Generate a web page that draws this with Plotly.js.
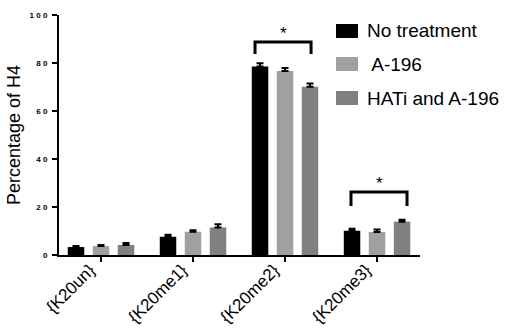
<!DOCTYPE html>
<html>
<head>
<meta charset="utf-8">
<script src="https://cdn.plot.ly/plotly-3.0.1.min.js"></script>
<style>html,body{margin:0;padding:0;background:#fff;}#chart{width:509px;height:329px;}</style>
</head>
<body>
<div id="chart"></div>
<script>
// ---- data ----
const categories = ["{K20un}", "{K20me1}", "{K20me2}", "{K20me3}"];
const seriesNames = ["No treatment", " A-196", "HATi and A-196"];
const seriesColors = ["#000000", "#a0a0a0", "#808080"];
const noTreatment = [3.3, 7.6, 78.5, 10.1];
const a196 = [3.7, 9.7, 76.7, 9.6];
const hatiA196 = [4.2, 11.5, 70.1, 13.9];
const noTreatmentErr = [0.4, 0.8, 1.4, 0.8];
const a196Err = [0.5, 0.6, 1.2, 1.0];
const hatiA196Err = [0.8, 1.3, 1.4, 0.8];
const yTickVals = [0, 20, 40, 60, 80, 100];
const yTickText = ["0", "2 0", "4 0", "6 0", "8 0", "1 0 0"];
// significance brackets
const bracketLeft = [1.674, 2.717];
const bracketRight = [2.283, 3.326];
const bracketTop = [88.8, 26.2];
const bracketDrop = [83.7, 20.4];
const starY = [92.5, 29.6];

const values = [noTreatment, a196, hatiA196];
const errs = [noTreatmentErr, a196Err, hatiA196Err];
const FONT = "Liberation Sans, Arial";

const traces = values.map((v, i) => ({
  type: "bar",
  name: seriesNames[i],
  x: categories,
  y: v,
  marker: {color: seriesColors[i], line: {width: 0}},
  error_y: {type: "data", symmetric: false, array: errs[i], arrayminus: errs[i].map(() => 0),
            color: "#000", thickness: 2, width: 3.5},
  showlegend: false
}));

const shapes = [];
const annotations = [];
for (let k = 0; k < bracketLeft.length; k++) {
  const L = bracketLeft[k], R = bracketRight[k], T = bracketTop[k], D = bracketDrop[k];
  shapes.push({type: "path", xref: "x", yref: "y",
    path: `M ${L} ${D} L ${L} ${T} L ${R} ${T} L ${R} ${D}`,
    line: {color: "#000", width: 3}});
  annotations.push({xref: "x", yref: "y", x: (L + R) / 2, y: starY[k], text: "*",
    showarrow: false, font: {family: FONT, size: 17, color: "#000"}});
}
// rotated category labels
categories.forEach((c, i) => {
  annotations.push({xref: "x", yref: "paper", x: i, y: 0, yshift: -2, xshift: 1,
    xanchor: "right", yanchor: "top", textangle: -45, text: c, showarrow: false,
    font: {family: FONT, size: 17, color: "#000"}});
});
// legend drawn in paper space
const legendY = [31, 64, 98];
seriesNames.forEach((n, i) => {
  shapes.push({type: "rect", xref: "paper", yref: "paper",
    x0: (336 - 59) / 361, x1: (358 - 59) / 361,
    y0: (255 - legendY[i] - 7) / 240, y1: (255 - legendY[i] + 7) / 240,
    fillcolor: seriesColors[i], line: {width: 0}});
  annotations.push({xref: "paper", yref: "paper", x: (365 - 59) / 361, y: (255 - legendY[i]) / 240,
    xanchor: "left", yanchor: "middle", text: n, showarrow: false,
    font: {family: FONT, size: 19, color: "#000"}});
});

const layout = {
  width: 509, height: 329,
  margin: {l: 59, r: 89, t: 15, b: 74, pad: 0},
  paper_bgcolor: "#fff", plot_bgcolor: "#fff",
  barmode: "group", bargap: 0.185, bargroupgap: 0.34,
  font: {family: FONT, color: "#000"},
  xaxis: {
    type: "category", range: [-0.4565, 3.467],
    showline: true, linecolor: "#000", linewidth: 2,
    ticks: "outside", ticklen: 5, tickwidth: 2, tickcolor: "#000",
    showticklabels: false,
    showgrid: false, zeroline: false, fixedrange: true
  },
  yaxis: {
    range: [0, 100], showline: true, linecolor: "#000", linewidth: 2,
    ticks: "outside", ticklen: 5, tickwidth: 2, tickcolor: "#000",
    tickvals: yTickVals, ticktext: yTickText, ticklabelstandoff: 3,
    tickfont: {size: 8, family: FONT, weight: "bold"},
    showgrid: false, zeroline: false,
    title: {text: "Percentage of H4", font: {size: 18, family: FONT}, standoff: 4}
  },
  shapes: shapes,
  annotations: annotations
};

Plotly.newPlot("chart", traces, layout, {displayModeBar: false, staticPlot: true});
</script>
</body>
</html>
